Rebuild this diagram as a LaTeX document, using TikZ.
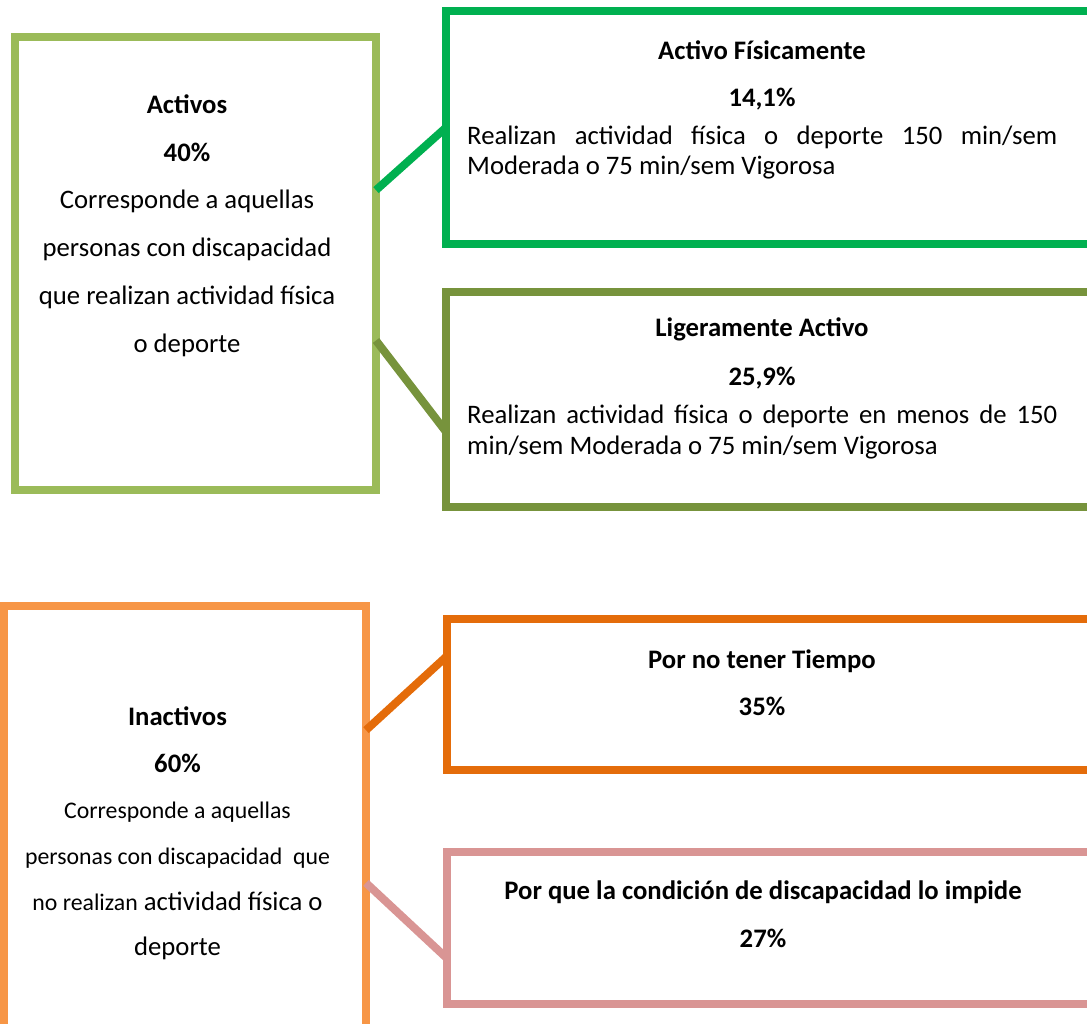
\documentclass[tikz,border=0pt]{standalone}
\usepackage{fontspec}
\setmainfont{Carlito}
\usetikzlibrary{calc}
\definecolor{verdeclaro}{HTML}{9BBB59}
\definecolor{verde}{HTML}{00B050}
\definecolor{verdeoliva}{HTML}{77933C}
\definecolor{naranjaclaro}{HTML}{F79646}
\definecolor{naranja}{HTML}{E46C0A}
\definecolor{rosa}{HTML}{D99594}
\newcommand{\grande}{\fontsize{26.7}{32}\selectfont}
\newcommand{\chico}{\fontsize{23.8}{28}\selectfont}

\begin{document}
\begin{tikzpicture}[
  x=1pt, y=-1pt,
  box/.style = {draw, line width=8pt, outer sep=0pt, inner sep=0pt},
  link/.style = {line width=8pt},
  lbl/.style = {anchor=base, inner sep=0pt, text=black, font=\grande},
  titulo/.style = {lbl, font=\grande\bfseries},
  ]
	\useasboundingbox (0,0) rectangle (1087,1024);
	\clip (0,0) rectangle (1087,1024);

	% cajas
	\node[box, verdeclaro, minimum width=361pt, minimum height=453pt] (activos) at (195.5,263.5) {};
	\node[box, verde, minimum width=654pt, minimum height=233pt] (fisico) at (773,127.5) {};
	\node[box, verdeoliva, minimum width=654pt, minimum height=215pt] (ligero) at (773,399.5) {};
	\node[box, naranjaclaro, minimum width=362pt, minimum height=434pt] (inactivos) at (185,823) {};
	\node[box, naranja, minimum width=653pt, minimum height=151pt] (tiempo) at (773.5,694.5) {};
	\node[box, rosa, minimum width=653pt, minimum height=152pt] (condicion) at (773.5,928) {};

	% conectores
	\draw[link, verde] ($(activos.north east)!0.338!(activos.south east)$) -- (fisico.west);
	\draw[link, verdeoliva] ($(activos.north east)!0.67!(activos.south east)$) -- ($(ligero.north west)!0.65!(ligero.south west)$);
	\draw[link, naranja] ($(inactivos.north east)!0.286!(inactivos.south east)$) -- ($(tiempo.north west)!0.245!(tiempo.south west)$);
	\draw[link, rosa] ($(inactivos.north east)!0.638!(inactivos.south east)$) -- ($(condicion.north west)!0.70!(condicion.south west)$);

	% activos
	\node[titulo] (t-activos) at (187,114) {Activos};
	\node[titulo] (p-activos) at (187,162) {40\%};
	\foreach \linea [count=\i] in {Corresponde a aquellas, personas con discapacidad, que realizan actividad física, o deporte}
		\node[lbl] (d-activos-\i) at (187,{209+47.7*(\i-1)}) {\linea};

	\node[titulo] (t-fisico) at (762,60) {Activo Físicamente};
	\node[titulo] (p-fisico) at (762,107) {14,1\%};
	\node[lbl, anchor=base west] (d-fisico-1) at (467,145) {\makebox[590pt][s]{Realizan actividad física o deporte 150 min/sem}};
	\node[lbl, anchor=base west] (d-fisico-2) at (467,175) {Moderada o 75 min/sem Vigorosa};

	\node[titulo] (t-ligero) at (762,337) {Ligeramente Activo};
	\node[titulo] (p-ligero) at (762,385) {25,9\%};
	\node[lbl, anchor=base west] (d-ligero-1) at (467,423) {\makebox[590pt][s]{Realizan actividad física o deporte en menos de 150}};
	\node[lbl, anchor=base west] (d-ligero-2) at (467,454) {min/sem Moderada o 75 min/sem Vigorosa};

	% inactivos
	\node[titulo] (t-inactivos) at (177.5,725) {Inactivos};
	\node[titulo] (p-inactivos) at (177.5,772) {60\%};
	\node[lbl, font=\chico] (d-inactivos-1) at (177.5,818) {Corresponde a aquellas};
	\node[lbl, font=\chico] (d-inactivos-2) at (177.5,864) {personas con discapacidad\ \ que};
	\node[lbl] (d-inactivos-3) at (177.5,910) {{\chico no realizan} actividad física o};
	\node[lbl] (d-inactivos-4) at (177.5,955) {deporte};

	\node[titulo] (t-tiempo) at (762,668) {Por no tener Tiempo};
	\node[titulo] (p-tiempo) at (762,715) {35\%};

	\node[titulo] (t-condicion) at (763,899) {Por que la condición de discapacidad lo impide};
	\node[titulo] (p-condicion) at (763,947) {27\%};

\end{tikzpicture}
\end{document}
